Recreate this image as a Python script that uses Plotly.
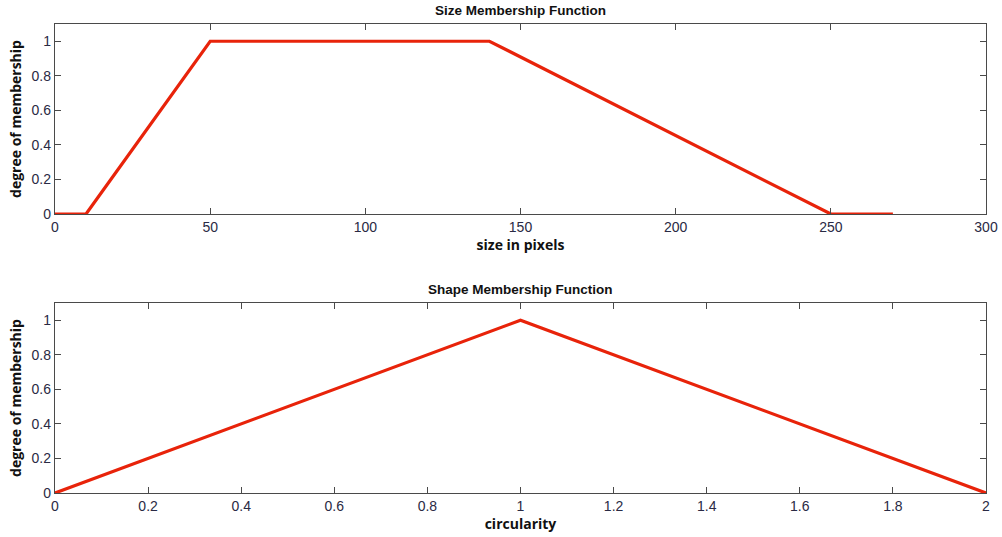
import plotly.graph_objects as go

size_x = [0, 10, 50, 140, 250, 270]
size_mu = [0, 0, 1, 1, 0, 0]
shape_x = [0, 1, 2]
shape_mu = [0, 1, 0]

size_ticks = [0, 50, 100, 150, 200, 250, 300]
shape_ticks = [0, 0.2, 0.4, 0.6, 0.8, 1, 1.2, 1.4, 1.6, 1.8, 2]
shape_ticktext = ["0", "0.2", "0.4", "0.6", "0.8", "1", "1.2", "1.4", "1.6", "1.8", "2"]
y_ticks = [0, 0.2, 0.4, 0.6, 0.8, 1]
y_ticktext = ["0", "0.2", "0.4", "0.6", "0.8", "1"]

RED = "#e8230a"
W, H = 1002, 537

fig = go.Figure()
fig.add_trace(go.Scatter(x=size_x, y=size_mu, mode="lines",
                         line=dict(color=RED, width=3.2), xaxis="x", yaxis="y", showlegend=False))
fig.add_trace(go.Scatter(x=shape_x, y=shape_mu, mode="lines",
                         line=dict(color=RED, width=3.2), xaxis="x2", yaxis="y2", showlegend=False))

axis_common = dict(showline=True, linecolor="#4a4a4a", linewidth=1.3, mirror="ticks",
                   ticks="inside", ticklen=6, tickcolor="#4a4a4a", tickwidth=1,
                   showgrid=False, zeroline=False, automargin=False,
                   tickfont=dict(family="Liberation Sans, Arial", size=14, color="#2a2a44"))

T, B = 20, 30
PH = H - T - B


def dom(top_px, bot_px):
    return [1 - (bot_px - T) / PH, 1 - (top_px - T) / PH]


top = dom(24, 214)
bot = dom(303, 493)

title_font = dict(family="Open Sans, Liberation Sans", size=14, color="#111111")

fig.update_layout(
    width=W, height=H,
    margin=dict(l=55, r=16, t=T, b=B, autoexpand=False),
    plot_bgcolor="white", paper_bgcolor="white",
    xaxis=dict(domain=[0, 1], anchor="y", range=[0, 300], tickvals=size_ticks,
               title=dict(text="<b>size in pixels</b>", font=title_font, standoff=0), **axis_common),
    yaxis=dict(domain=top, anchor="x", range=[0, 1.1], tickvals=y_ticks, ticktext=y_ticktext,
               title=dict(text="<b>degree of membership</b>", font=title_font, standoff=6), **axis_common),
    xaxis2=dict(domain=[0, 1], anchor="y2", range=[0, 2], tickvals=shape_ticks, ticktext=shape_ticktext,
                title=dict(text="<b>circularity</b>", font=title_font, standoff=0), **axis_common),
    yaxis2=dict(domain=bot, anchor="x2", range=[0, 1.1], tickvals=y_ticks, ticktext=y_ticktext,
                title=dict(text="<b>degree of membership</b>", font=title_font, standoff=6), **axis_common),
    annotations=[
        dict(text="<b>Size Membership Function</b>", x=0.5, y=1, xref="x domain", yref="y domain",
             yanchor="bottom", yshift=4, showarrow=False,
             font=dict(family="Liberation Sans, Arial", size=13.5, color="#111111")),
        dict(text="<b>Shape Membership Function</b>", x=0.5, y=1, xref="x2 domain", yref="y2 domain",
             yanchor="bottom", yshift=4, showarrow=False,
             font=dict(family="Liberation Sans, Arial", size=13.5, color="#111111")),
    ],
)

fig.write_html("out.html")
